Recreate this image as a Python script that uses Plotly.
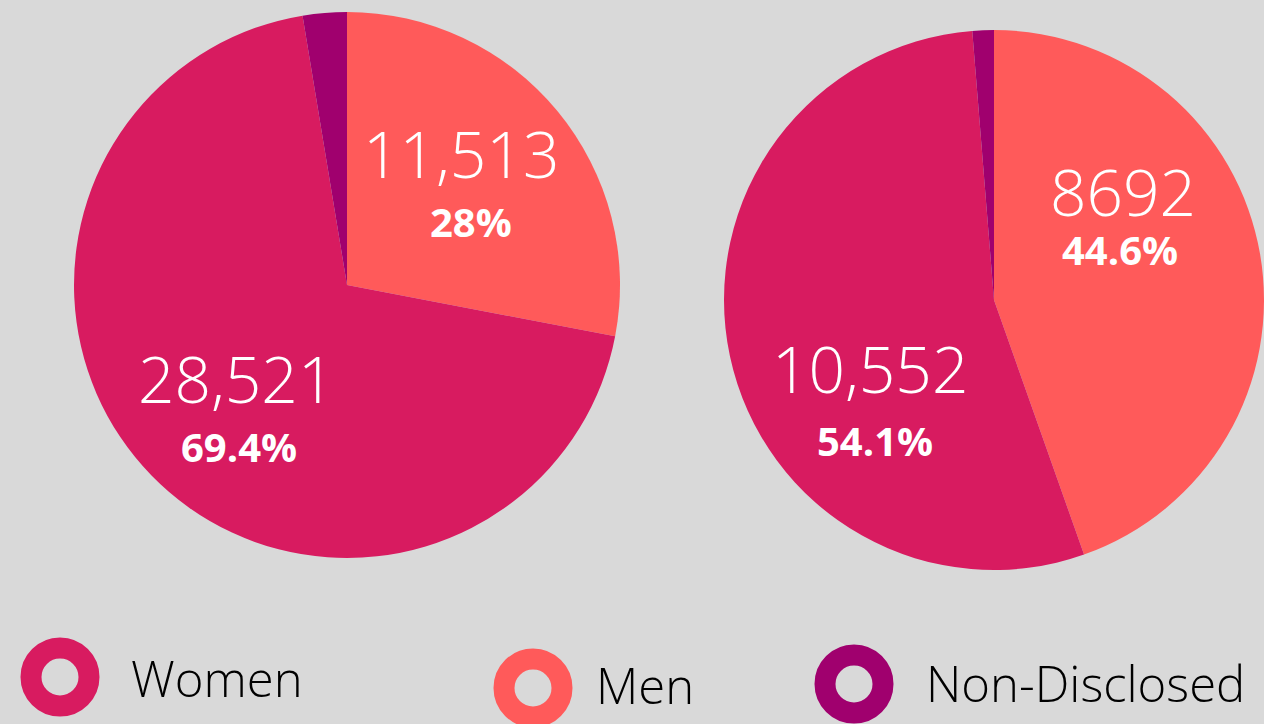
import plotly.graph_objects as go

W, H = 1264, 724

# data
categories = ["Men", "Women", "Non-Disclosed"]
left_values = [11513, 28521, 1070]
left_pct = [28, 69.4, 2.6]
right_values = [8692, 10552, 250]
right_pct = [44.6, 54.1, 1.3]
colors = ["#FF5A5A", "#D81B60", "#A0006E"]

legend_order = ["Women", "Men", "Non-Disclosed"]

BG = "#D9D9D9"
FONT = "Open Sans"

# where the slice labels sit (pixel centres: number, percent), per pie
label_pos = [
    {"Men": ((461, 153), (471, 221)), "Women": ((236, 378), (239, 446))},
    {"Men": ((1123, 191), (1120, 250)), "Women": ((870, 368), (875, 440))},
]


def fx(px):
    return px / W


def fy(py):
    # pixel from top -> paper fraction from bottom
    return 1 - py / H


def fmt_num(v):
    return f"{v:,}" if v >= 10000 else str(v)


fig = go.Figure()

pies = [
    (left_values, left_pct, [fx(74), fx(620)], [fy(558), fy(12)]),
    (right_values, right_pct, [fx(724), 1.0], [fy(570), fy(30)]),
]
annotations = []
for i, (values, pcts, dx, dy) in enumerate(pies):
    fig.add_trace(
        go.Pie(
            labels=categories,
            values=values,
            textinfo="none",
            marker=dict(colors=colors, line=dict(width=0)),
            sort=False,
            direction="clockwise",
            rotation=0,
            domain=dict(x=dx, y=dy),
            hoverinfo="label+value+percent",
            showlegend=False,
        )
    )
    for cat, v, p in zip(categories, values, pcts):
        if cat not in label_pos[i]:
            continue
        (nx, ny), (px_, py_) = label_pos[i][cat]
        annotations.append(
            dict(
                text=fmt_num(v), x=fx(nx), y=fy(ny),
                xref="paper", yref="paper", xanchor="center", yanchor="middle",
                showarrow=False,
                font=dict(family=FONT, size=64, color="white", weight=300),
            )
        )
        annotations.append(
            dict(
                text=f"<b>{p:g}%</b>", x=fx(px_), y=fy(py_),
                xref="paper", yref="paper", xanchor="center", yanchor="middle",
                showarrow=False,
                font=dict(family=FONT, size=40, color="white"),
            )
        )

# hand-made legend with ring markers
legend_pos = {
    "Women": (60, 677, 129, 678),
    "Men": (533, 688, 594, 685),
    "Non-Disclosed": (854, 684, 924, 683),
}
color_of = dict(zip(categories, colors))
shapes = []
for name in legend_order:
    cx, cy, tx, ty = legend_pos[name]
    r = 29
    shapes.append(
        dict(
            type="circle",
            xref="paper",
            yref="paper",
            x0=fx(cx - r),
            x1=fx(cx + r),
            y0=fy(cy + r),
            y1=fy(cy - r),
            line=dict(color=color_of[name], width=21),
            fillcolor="rgba(0,0,0,0)",
        )
    )
    annotations.append(
        dict(
            text=name,
            xref="paper",
            yref="paper",
            x=fx(tx),
            y=fy(ty),
            xanchor="left",
            yanchor="middle",
            showarrow=False,
            font=dict(family=FONT, size=49, color="black", weight=300),
        )
    )

fig.update_layout(
    width=W,
    height=H,
    margin=dict(l=0, r=0, t=0, b=0),
    paper_bgcolor=BG,
    plot_bgcolor=BG,
    shapes=shapes,
    annotations=annotations,
)

fig.write_html(
    "out.html",
    config={"displayModeBar": False},
    post_script="document.body.style.margin='0';document.body.style.overflow='hidden';",
)
